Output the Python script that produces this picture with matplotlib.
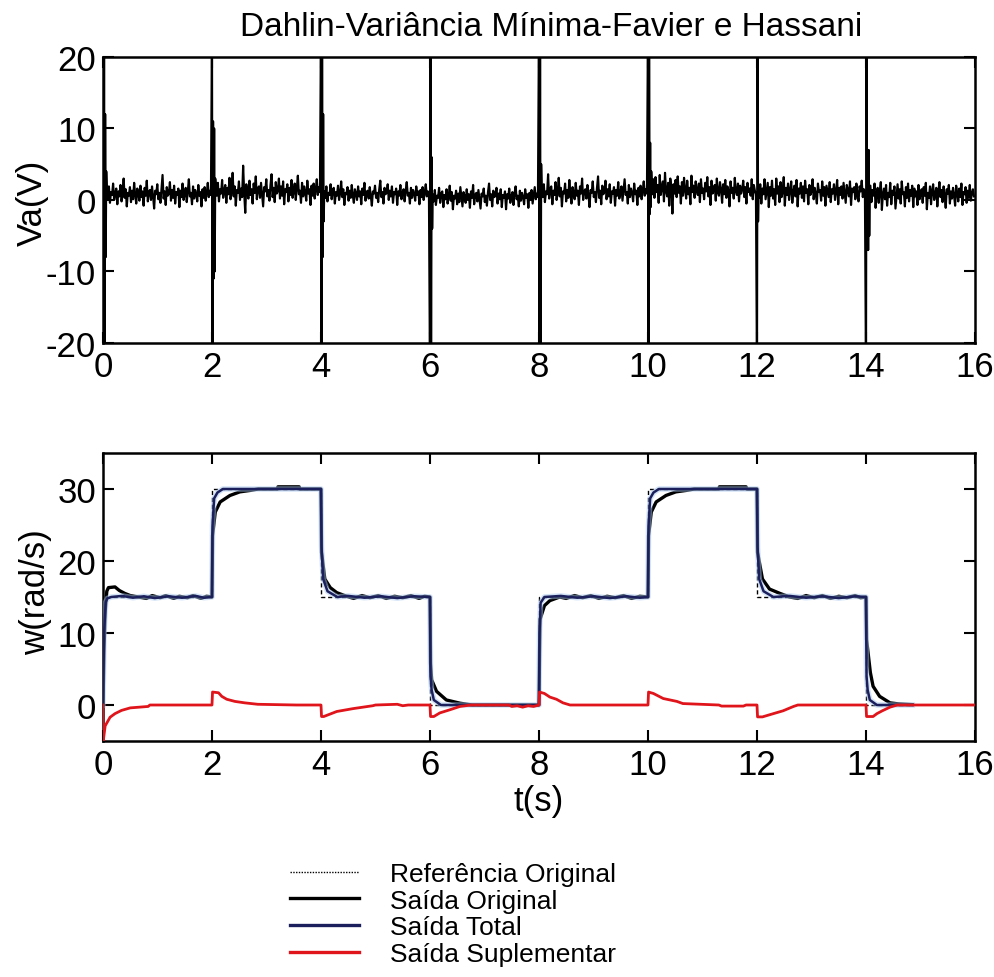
import numpy as np
import matplotlib
matplotlib.use("Agg")
import matplotlib.pyplot as plt
from matplotlib.lines import Line2D

plt.rcParams['font.family'] = ['Liberation Sans', 'DejaVu Sans']
plt.rcParams['axes.unicode_minus'] = False

# ---- armature voltage Va(V) ----
# each 2 s interval starts with a short switching burst (V, 0.01 s apart)
va_bursts = [
    [25, -25, 25, -25, 12, -8, 4],
    [24, -24, 11, -11, 10, -10, 3],
    [25, -25, 25, -8, 12, -3],
    [-25, 25, -25, 6, -4],
    [25, -25, 25, -25, 5],
    [25, -25, 25, -2, 8, -1],
    [-25, 25, -3, 2],
    [-25, 25, -7, 7, -7, 7, -5, 2],
]
# followed by the noisy steady part, in tenths of a volt
va_noise = [
    "14 2 19 -4 11 7 23 0 9 16 -6 12 5 21 -2 8 30 3 15 -9 10 6 18 -3 13 1 24 7 -5 16 "
    "9 -1 20 4 12 -8 17 6 27 -2 11 14 0 19 5 -12 13 8 22 1 10 -4 15 35 2 12 -7 18 6 9 "
    "25 -1 14 3 20 -5 11 7 16 -10 13 4 23 0 8 17 -3 12 29 5 10 -6 19 2 14 8 -2 21 6 11 "
    "-9 15 3 18 -1 9 24 4 13 7",
    "18 6 24 -2 15 9 28 3 13 21 -4 17 8 31 1 12 38 5 19 -8 14 10 26 0 16 4 48 9 -18 22 "
    "11 2 27 7 15 -5 23 10 33 1 16 19 3 24 8 -9 18 12 29 5 14 -1 21 36 4 17 -3 25 9 13 "
    "30 2 19 6 26 -6 15 11 22 -2 17 7 28 3 12 23 0 16 34 8 13 -4 24 5 19 10 -1 27 9 15 "
    "-7 20 6 23 2 14 29 7 18 11",
    "12 3 19 -2 10 7 22 1 14 17 -5 11 6 20 0 9 26 4 15 -7 10 8 18 -1 13 3 21 6 -4 15 "
    "9 0 19 5 12 -6 16 7 24 -1 11 13 2 18 6 -8 12 9 20 3 10 -3 15 27 4 11 -5 17 8 10 "
    "22 0 13 5 19 -4 11 8 16 -7 12 6 21 1 9 15 -2 13 25 6 10 -5 17 3 14 9 -1 19 7 12 "
    "-6 14 4 18 0 10 22 5 12 8",
    "8 -2 14 -7 6 3 17 -4 9 12 -10 7 1 15 -5 4 20 -1 11 -13 6 2 13 -6 9 -3 18 4 -9 11 "
    "5 -4 15 0 8 -11 12 3 21 -6 7 10 -2 14 1 -12 9 5 16 -3 6 -8 11 23 0 8 -9 13 4 6 "
    "17 -5 9 1 15 -10 7 3 12 -13 8 2 16 -4 5 11 -7 9 19 1 6 -9 13 -1 10 4 -6 15 3 8 "
    "-11 10 0 14 -5 6 18 1 9 4",
    "14 4 22 -3 12 8 36 2 16 19 -6 13 7 25 0 10 31 5 17 -9 12 9 23 -2 14 3 28 8 -5 18 "
    "10 1 24 6 13 -7 19 9 30 0 12 15 2 21 7 -10 14 10 26 4 11 -3 17 33 3 13 -6 20 8 11 "
    "27 1 15 5 22 -4 12 9 18 -8 14 6 25 2 10 19 -1 14 29 7 11 -5 21 4 16 10 -2 23 8 13 "
    "-7 17 5 20 1 12 26 6 15 9",
    "40 8 29 3 32 11 21 -4 35 7 18 26 -2 38 12 5 24 -8 30 16 -19 22 9 28 4 33 10 19 -5 25 "
    "6 31 14 2 27 8 17 -6 34 11 20 3 26 13 7 23 -3 29 10 16 1 24 12 32 5 18 -7 27 9 14 "
    "21 -1 30 11 6 25 15 -4 22 8 28 3 19 13 -9 26 10 17 2 31 12 7 23 -2 20 9 15 27 4 18 "
    "-5 24 11 16 6 29 1 21 13 8",
    "3 22 -5 16 8 29 1 13 24 -10 18 6 27 2 15 -7 30 9 19 -3 25 4 12 32 -8 17 7 23 0 14 "
    "26 -4 11 20 5 28 -9 16 9 24 3 19 -2 27 10 15 -6 21 7 12 29 1 17 8 -5 23 11 14 -1 26 "
    "6 18 -8 20 12 4 25 -3 15 9 22 0 13 28 -6 17 7 19 2 24 10 -4 21 14 5 26 -7 16 11 18 "
    "1 23 8 -2 19 12 27 4 15 6",
    "20 -3 14 6 23 -11 9 17 -4 12 25 -14 8 16 1 21 -8 10 4 24 -6 13 7 19 -12 5 22 2 15 -5 "
    "26 8 11 -9 18 3 23 -2 14 6 20 -10 16 5 12 -7 21 1 9 15 -4 18 6 24 -13 10 3 19 -6 13 "
    "22 0 8 17 -9 11 25 4 14 -3 19 7 -11 15 9 21 -5 12 2 17 6 -8 20 10 -2 16 4 23 -7 11 "
    "8 18 -4 13 3 21 -1 9 15 5",
]
segment_starts = [0, 2, 4, 6, 8, 10, 12, 14]
burst_dt = 0.01

# ---- speed w(rad/s): (t, w) breakpoints ----
referencia = [(0, 0), (0, 15), (2, 15), (2, 30), (4, 30), (4, 15), (6, 15), (6, 0), (8, 0), (8, 15),
              (10, 15), (10, 30), (12, 30), (12, 15), (14, 15), (14, 0), (14.85, 0)]

saida_original = [
    (0, 0), (0.02, 8), (0.04, 13), (0.07, 15.8), (0.1, 16.3), (0.22, 16.4), (0.3, 15.9), (0.4, 15.5),
    (0.5, 15.2), (0.65, 15.0), (0.8, 14.8), (0.9, 15.2), (1.05, 14.9), (1.15, 15.2), (1.3, 14.8),
    (1.4, 15.1), (1.55, 14.9), (1.65, 15.2), (1.8, 14.8), (1.9, 15.1), (2.0, 15.0),
    (2.01, 23.5), (2.06, 26.8), (2.15, 28.2), (2.33, 29.1), (2.51, 29.6), (2.7, 29.8), (2.85, 30.0),
    (3.2, 30.0), (3.21, 30.3), (3.6, 30.3), (3.61, 30.0), (4.0, 30.0),
    (4.01, 21.2), (4.07, 17.5), (4.17, 16.3), (4.29, 15.6), (4.47, 15.1), (4.6, 14.8), (4.75, 15.2),
    (4.9, 14.9), (5.05, 15.2), (5.2, 14.8), (5.35, 15.1), (5.5, 14.9), (5.65, 15.2), (5.8, 14.8),
    (5.9, 15.1), (6.0, 15.0),
    (6.01, 5.8), (6.03, 3.5), (6.12, 1.9), (6.3, 0.7), (6.55, 0.25), (6.77, 0.0), (8.0, 0.0),
    (8.01, 7.3), (8.02, 11.9), (8.1, 13.8), (8.2, 14.5), (8.38, 15.0), (8.5, 14.8), (8.65, 15.2),
    (8.8, 14.9), (8.95, 15.2), (9.1, 14.8), (9.25, 15.1), (9.4, 14.9), (9.55, 15.2), (9.7, 14.8),
    (9.85, 15.1), (10.0, 15.0),
    (10.01, 23.5), (10.06, 26.8), (10.15, 28.2), (10.33, 29.1), (10.51, 29.6), (10.7, 29.8),
    (10.85, 30.0), (11.3, 30.0), (11.31, 30.3), (11.8, 30.3), (11.81, 30.0), (12.0, 30.0),
    (12.01, 21.2), (12.1, 17.5), (12.23, 16.1), (12.42, 15.5), (12.6, 15.0), (12.75, 14.8),
    (12.9, 15.2), (13.05, 14.9), (13.2, 15.2), (13.35, 14.8), (13.5, 15.1), (13.65, 14.9),
    (13.8, 15.2), (13.9, 14.9), (14.0, 15.0),
    (14.01, 9.1), (14.08, 4.5), (14.13, 2.6), (14.25, 1.2), (14.44, 0.3), (14.6, 0.15), (14.85, 0.05),
]

saida_total = [
    (0, 0), (0.02, 10), (0.05, 14.3), (0.08, 14.8), (0.15, 15.0), (0.35, 15.15), (0.55, 14.9),
    (0.75, 15.1), (0.95, 14.85), (1.2, 15.1), (1.45, 14.9), (1.7, 15.15), (1.85, 14.9), (2.0, 15.0),
    (2.01, 25), (2.04, 28.7), (2.1, 29.5), (2.2, 30.0), (4.0, 30.0),
    (4.01, 22), (4.04, 17.5), (4.12, 15.8), (4.3, 15.0), (4.5, 15.15), (4.8, 14.9), (5.1, 15.1),
    (5.4, 14.85), (5.7, 15.1), (6.0, 15.0),
    (6.01, 4.0), (6.03, 2.1), (6.07, 0.7), (6.2, 0.0), (8.0, 0.0),
    (8.01, 10), (8.03, 14.2), (8.1, 15.0), (8.4, 15.15), (8.7, 14.9), (9.0, 15.1), (9.3, 14.85),
    (9.6, 15.1), (9.85, 14.9), (10.0, 15.0),
    (10.01, 25), (10.04, 28.7), (10.1, 29.5), (10.2, 30.0), (12.0, 30.0),
    (12.01, 22), (12.04, 17.5), (12.12, 15.8), (12.3, 15.0), (12.6, 15.15), (12.9, 14.9),
    (13.2, 15.1), (13.5, 14.85), (13.8, 15.1), (14.0, 15.0),
    (14.01, 4.0), (14.03, 2.1), (14.07, 0.7), (14.2, 0.0), (14.85, 0.0),
]

saida_suplementar = [
    (0, 0), (0.005, -5), (0.04, -2.9), (0.13, -1.7), (0.22, -1.2), (0.34, -0.75), (0.5, -0.4),
    (0.83, -0.2), (0.86, 0), (2.0, 0),
    (2.01, 1.8), (2.12, 1.7), (2.18, 1.2), (2.27, 0.8), (2.42, 0.5), (2.6, 0.3), (2.84, 0.1),
    (3.55, 0.0), (4.0, 0),
    (4.01, -1.6), (4.05, -1.6), (4.29, -0.9), (4.59, -0.5), (4.95, -0.1), (5.0, 0), (5.4, 0.1),
    (5.5, -0.1), (5.6, 0), (6.0, 0),
    (6.01, -1.6), (6.07, -1.6), (6.18, -1.1), (6.37, -0.65), (6.55, -0.2), (6.75, 0), (7.45, 0),
    (7.5, -0.2), (7.6, -0.1), (7.7, -0.3), (7.8, -0.1), (7.9, -0.2), (8.0, 0),
    (8.01, 1.8), (8.1, 1.6), (8.2, 1.1), (8.32, 0.8), (8.44, 0.3), (8.57, 0), (10.0, 0),
    (10.01, 1.8), (10.1, 1.6), (10.28, 0.9), (10.53, 0.5), (10.64, 0.2), (11.3, 0),
    (11.35, -0.15), (11.75, -0.15), (11.8, 0), (12.0, 0),
    (12.01, -1.65), (12.1, -1.65), (12.3, -1.2), (12.48, -0.8), (12.67, -0.2), (12.75, 0), (14.0, 0),
    (14.01, -1.6), (14.13, -1.6), (14.2, -1.2), (14.3, -0.8), (14.44, -0.3), (14.57, 0), (16.0, 0),
]

x_ticks = [0, 2, 4, 6, 8, 10, 12, 14, 16]
va_ticks = [-20, -10, 0, 10, 20]
w_ticks = [0, 10, 20, 30]
legend_labels = ["Referência Original", "Saída Original", "Saída Total", "Saída Suplementar"]

NAVY = "#1b1f5c"
RED = "#e0141b"
FS = 25

fig = plt.figure(figsize=(9.95, 9.78), dpi=100)
ax1 = fig.add_axes([0.1035, 0.6483, 0.8764, 0.2924])
ax2 = fig.add_axes([0.1035, 0.2413, 0.8764, 0.2945])

# upper panel: control voltage, burst then noise in every interval
t_parts, v_parts = [], []
for start, burst, noise in zip(segment_starts, va_bursts, va_noise):
    b = np.asarray(burst, float)
    n = np.asarray(noise.split(), float) / 10.0
    tb = start + burst_dt * np.arange(len(b))
    tn = np.linspace(tb[-1] + burst_dt, start + 2, len(n), endpoint=False)
    t_parts += [tb, tn]
    v_parts += [b, n]
t_va = np.concatenate(t_parts)
va = np.concatenate(v_parts)
ax1.plot(t_va, va, color="black", lw=1.55)
ax1.set_xlim(0, 16)
ax1.set_ylim(-20, 20)
ax1.set_yticks(va_ticks)

# lower panel: speed responses
def xy(pairs):
    a = np.asarray(pairs, float)
    return a[:, 0], a[:, 1]

rt, rw = xy(referencia)
ot, ow = xy(saida_original)
tt, tw = xy(saida_total)
st, sw = xy(saida_suplementar)

ax2.plot(rt, rw, color="black", lw=1.0, ls=(0, (3, 2)), zorder=2)
ax2.plot(ot, ow, color="black", lw=2.4, zorder=3)
ax2.plot(tt, tw, color="#a9c8ee", lw=4.0, alpha=0.5, zorder=3.5)
ax2.plot(tt, tw, color=NAVY, lw=1.8, zorder=4)
ax2.plot(st, sw, color=RED, lw=2.0, zorder=5)
ax2.set_xlim(0, 16)
ax2.set_ylim(-5, 35)
ax2.set_yticks(w_ticks)

for ax in (ax1, ax2):
    ax.set_xticks(x_ticks)
    ax.tick_params(direction="in", length=8, width=1.5, top=True, right=True,
                   labelsize=FS, pad=5)
    for sp in ax.spines.values():
        sp.set_linewidth(1.8)

fig.text(551 / 995, 1 - 27 / 978, "Dahlin-Variância Mínima-Favier e Hassani",
         ha="center", va="center", fontsize=24)
fig.text(32 / 995, 1 - 203 / 978, "Va(V)", rotation=90, ha="center", va="center", fontsize=FS)
fig.text(36 / 995, 1 - 592 / 978, "w(rad/s)", rotation=90, ha="center", va="center", fontsize=FS)
fig.text(539 / 995, 1 - 801 / 978, "t(s)", ha="center", va="center", fontsize=FS)

handles = [
    Line2D([], [], color="black", lw=1.0, ls=(0, (1, 1))),
    Line2D([], [], color="black", lw=2.4),
    Line2D([], [], color=NAVY, lw=2.4),
    Line2D([], [], color=RED, lw=2.4),
]
fig.legend(handles, legend_labels, loc="upper left", bbox_to_anchor=(290 / 995, 1 - 863 / 978),
           frameon=False, fontsize=19, handlelength=2.6, handletextpad=1.2,
           labelspacing=0.1, borderpad=0, borderaxespad=0)

fig.savefig("out.png", dpi=100)
